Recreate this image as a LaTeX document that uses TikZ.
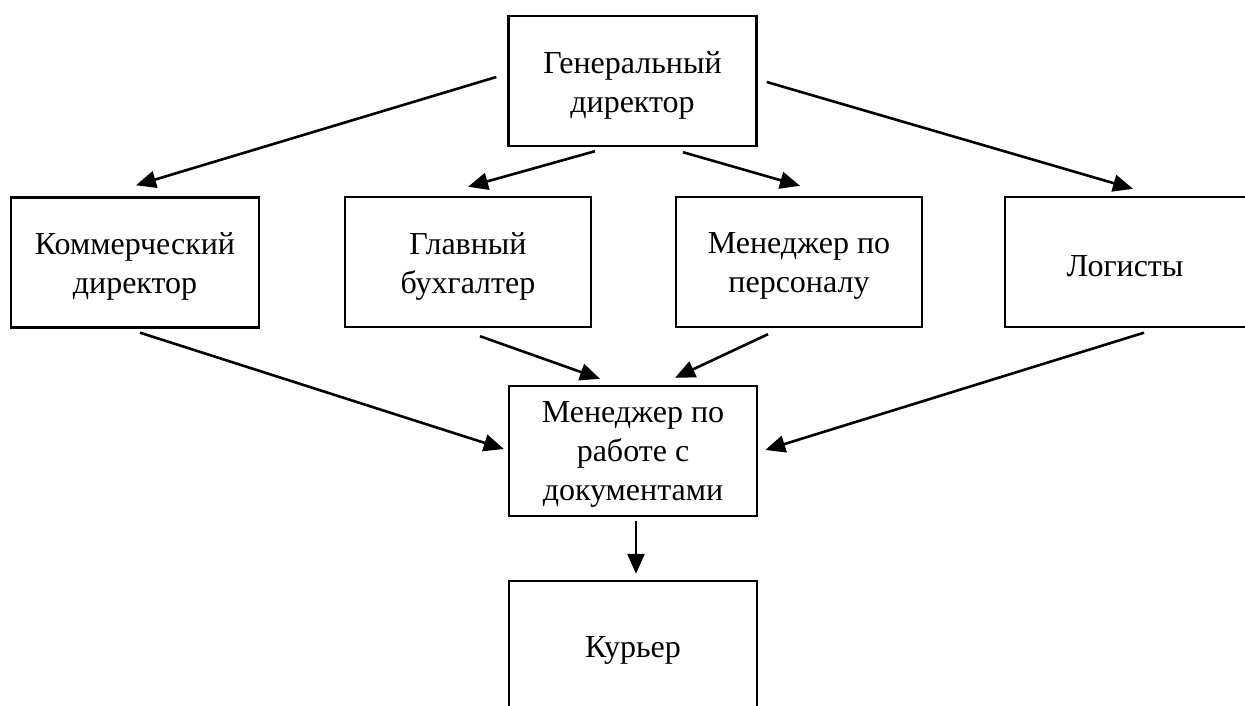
\documentclass[tikz,border=0pt]{standalone}
\usepackage{fontspec}
\setmainfont{Liberation Serif}
\usetikzlibrary{arrows.meta}
\begin{document}
\begin{tikzpicture}[x=1pt,y=-1pt,
  box/.style={draw=black,line width=2.4pt,rectangle,minimum width=248pt,minimum height=130pt,inner sep=0pt},
  txt/.style={align=center,inner sep=0pt,font=\fontsize{32}{39}\selectfont},
  arr/.style={line width=2.6pt,-{Triangle[length=20pt,width=17pt]}}]
\useasboundingbox (0,0) rectangle (1245,706);
\node[box] (gd) at (632.5,81) {};
\node[box] (kd) at (135,262.5) {};
\node[box,minimum width=246pt] (gb) at (468,262) {};
\node[box,minimum width=246pt] (mp) at (799,262) {};
\node[box] (lg) at (1129,262) {};
\node[box] (md) at (633,451) {};
\node[box] (ku) at (633,646) {};
\node[txt] (gdt) at ([yshift=-4pt]gd.center) {Генеральный\\директор};
\node[txt] (kdt) at ([yshift=-4pt]kd.center) {Коммерческий\\директор};
\node[txt] (gbt) at ([yshift=-4pt]gb.center) {Главный\\бухгалтер};
\node[txt] (mpt) at ([yshift=-4pt]mp.center) {Менеджер по\\персоналу};
\node[txt] (lgt) at ([xshift=-4pt,yshift=-4pt]lg.center) {Логисты};
\node[txt] (mdt) at ([yshift=-3pt]md.center) {Менеджер по\\работе с\\документами};
\node[txt] (kut) at ([yshift=-4pt]ku.center) {Курьер};
\draw[arr] ([xshift=-11pt,yshift=4pt]gd.west) -- ([xshift=1pt,yshift=11pt]kd.north);
\draw[arr] ([xshift=-37.5pt,yshift=-4pt]gd.south) -- ([yshift=9pt]gb.north);
\draw[arr] ([xshift=50.5pt,yshift=-5pt]gd.south) -- ([xshift=1pt,yshift=10pt]mp.north);
\draw[arr] ([xshift=9pt,yshift=-1pt]gd.east) -- ([xshift=4pt,yshift=7pt]lg.north);
\draw[arr] ([xshift=5pt,yshift=-4pt]kd.south) -- ([xshift=-4pt,yshift=2pt]md.west);
\draw[arr] ([xshift=12pt,yshift=-8pt]gb.south) -- ([xshift=-33pt,yshift=6pt]md.north);
\draw[arr] ([xshift=-31pt,yshift=-6pt]mp.south) -- ([xshift=42pt,yshift=7pt]md.north);
\draw[arr] ([xshift=15pt,yshift=-4.5pt]lg.south) -- ([xshift=7pt,yshift=1pt]md.east);
\draw[arr] ([xshift=3pt,yshift=-4pt]md.south) -- ([xshift=3pt,yshift=6pt]ku.north);
\end{tikzpicture}
\end{document}
